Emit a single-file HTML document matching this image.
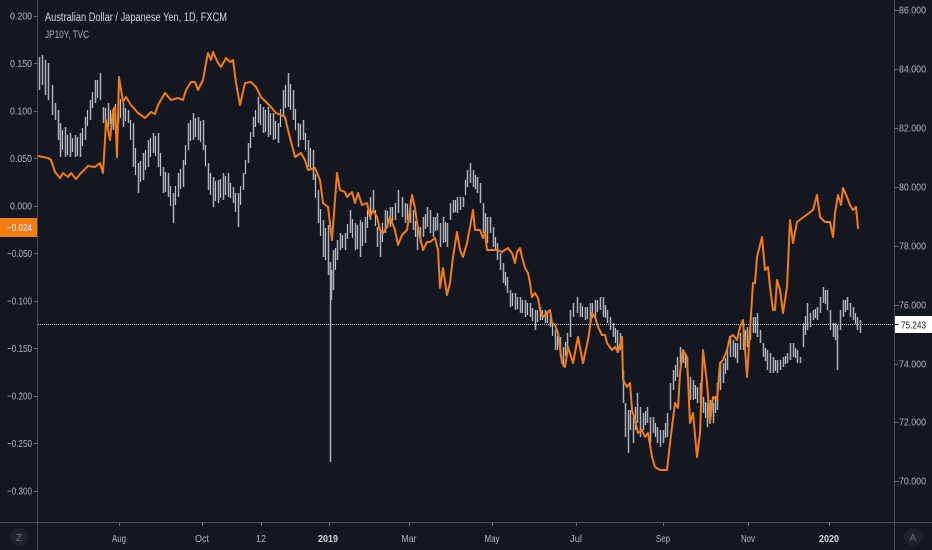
<!DOCTYPE html>
<html><head><meta charset="utf-8">
<style>
html,body{margin:0;padding:0;background:#131722;overflow:hidden;}
svg{display:block}
text{font-family:"Liberation Sans",sans-serif;}
</style></head><body>
<svg width="932" height="550" viewBox="0 0 932 550" xmlns="http://www.w3.org/2000/svg">
<defs><clipPath id="plot"><rect x="38" y="0" width="856" height="522"/></clipPath></defs>
<rect width="932" height="550" fill="#131722"/>
<g clip-path="url(#plot)">
<path fill="none" stroke="#aeb1b9" stroke-width="1.5" d="M39.5 57V90M42.5 55V85M45.5 60V95M48.5 63V100M52.5 85V115M55.5 103V120M58.5 110V140M60.5 123V157M65.5 127V157M70.5 133V157M75.5 135V157M80.5 133V157M85.5 117V140M90.5 100V120M95.5 80V103M100.5 73V100M103.5 107V123M108.5 103V127M113.5 113V130M118.5 90V123M123.5 103V127M128.5 110V123M133.5 123V167M138.5 163V193M143.5 153V180M148.5 140V167M153.5 133V153M158.5 133V167M163.5 167V193M168.5 173V197M173.5 193V223M178.5 173V197M183.5 160V187M188.5 123V150M193.5 113V140M198.5 117V140M203.5 120V150M208.5 163V190M213.5 177V207M218.5 180V203M223.5 173V200M228.5 173V197M233.5 187V203M238.5 193V227M243.5 173V190M248.5 143V163M253.5 117V137M258.5 97V123M263.5 107V133M268.5 107V137M273.5 113V140M278.5 123V143M283.5 90V117M288.5 73V107M293.5 90V120M298.5 123V147M303.5 120V140M308.5 140V167M313.5 150V180M318.5 190V223M323.5 220V257M328.5 225V275M333.5 250V290M337.5 240V260M340.5 233V250M345.5 233V250M350.5 210V233M355.5 223V250M360.5 220V257M365.5 217V243M370.5 197V220M373.5 190V210M377.5 227V247M380.5 230V257M385.5 210V233M390.5 207V227M395.5 203V220M398.5 190V213M402.5 197V217M405.5 203V223M410.5 200V223M413.5 210V230M417.5 227V250M420.5 227V243M423.5 217V237M427.5 207V227M430.5 210V233M433.5 217V237M437.5 213V230M440.5 223V247M443.5 217V243M447.5 223V247M450.5 203V220M453.5 200V213M457.5 197V213M460.5 197V210M463.5 197V207M467.5 170V187M470.5 163V183M473.5 170V187M477.5 177V193M480.5 183V203M483.5 203V233M487.5 217V243M490.5 217V233M493.5 227V247M497.5 243V260M500.5 253V270M503.5 263V283M507.5 277V293M510.5 290V307M515.5 293V310M520.5 297V313M525.5 300V317M530.5 303V317M535.5 310V330M540.5 307V320M545.5 310V323M550.5 313V327M555.5 330V350M560.5 337V357M563.5 347V367M567.5 333V350M570.5 310V337M573.5 303V317M577.5 297V313M580.5 303V317M585.5 307V320M590.5 303V323M595.5 300V317M600.5 297V310M603.5 297V317M607.5 310V323M610.5 317V330M613.5 323V337M617.5 330V353M620.5 333V350M623.5 370V403M625.5 403V437M628.5 410V453M630.5 410V430M633.5 417V443M637.5 393V423M640.5 407V437M643.5 413V430M647.5 407V423M650.5 417V443M653.5 417V433M657.5 427V443M660.5 430V447M663.5 430V443M667.5 413V437M670.5 383V410M673.5 370V390M677.5 357V377M680.5 347V367M683.5 350V363M687.5 357V377M690.5 377V400M693.5 380V400M697.5 387V403M700.5 383V403M703.5 397V413M707.5 403V427M710.5 400V420M713.5 403V423M717.5 383V410M720.5 363V390M723.5 363V383M727.5 350V370M730.5 337V357M733.5 340V357M737.5 343V363M740.5 333V350M743.5 330V350M747.5 327V347M750.5 323V340M753.5 317V333M757.5 313V337M760.5 330V343M763.5 343V357M767.5 350V370M770.5 353V373M773.5 357V373M777.5 360V373M780.5 360V370M783.5 357V367M787.5 353V363M790.5 343V360M793.5 343V357M797.5 350V363M800.5 357V363M803.5 323V347M807.5 303V330M810.5 313V327M813.5 310V320M817.5 307V320M820.5 297V313M823.5 287V303M827.5 290V310M830.5 310V330M833.5 323V337M835.5 323V340M840.5 310V330M843.5 300V317M847.5 297V310M850.5 303V317M853.5 307V320M857.5 317V330M860.5 320V333M330.5 262V462M331.5 270V300M837.5 325V370"/>
<path fill="none" stroke="#bfc2c9" stroke-width="1.2" d="M62.5 130V150M67.5 135V155M72.5 138V152M77.5 137V156M82.5 128V146M87.5 110V126M92.5 92V108M97.5 80V98M105.5 108V122M110.5 110V124M115.5 104V122M120.5 99V118M125.5 108V121M130.5 120V140M135.5 148V175M140.5 161V182M145.5 150V170M150.5 138V157M155.5 136V156M160.5 153V176M165.5 172V192M170.5 186V206M175.5 186V205M180.5 169V189M185.5 145V165M190.5 120V141M195.5 118V137M200.5 121V142M205.5 145V166M210.5 173V195M215.5 181V201M220.5 179V198M225.5 176V195M230.5 183V198M235.5 193V212M240.5 186V205M245.5 160V174M250.5 132V148M255.5 110V127M260.5 104V125M265.5 110V132M270.5 113V135M275.5 121V139M280.5 109V127M285.5 85V108M290.5 84V110M295.5 109V130M300.5 124V140M305.5 133V150M310.5 148V170M315.5 174V198M320.5 209V236M325.5 228V260M335.5 248V270M342.5 235V248M347.5 224V239M352.5 219V238M357.5 225V249M362.5 222V246M367.5 210V228M375.5 210V226M382.5 223V242M387.5 211V228M392.5 207V221M407.5 204V220M415.5 221V237M425.5 214V229M435.5 217V231M445.5 222V242M455.5 200V212M465.5 180V195M475.5 175V189M485.5 213V235M495.5 237V251M505.5 272V286M512.5 293V306M517.5 297V309M522.5 300V313M527.5 303V315M532.5 308V321M537.5 310V322M542.5 310V320M547.5 313V323M552.5 323V336M557.5 336V350M565.5 342V356M582.5 306V317M587.5 307V319M592.5 303V318M597.5 300V312M605.5 305V318M615.5 328V343M635.5 407V430M645.5 411V425M655.5 423V437M665.5 423V438M675.5 365V381M685.5 355V368M695.5 385V399M705.5 402V418M715.5 396V413M725.5 358V374M735.5 343V358M745.5 330V346M755.5 317V333M765.5 348V361M775.5 360V371M785.5 356V364M795.5 348V358M805.5 316V335M815.5 309V318M825.5 290V304M845.5 300V312M855.5 313V324"/>
<path fill="none" stroke="#f57c0f" stroke-width="2" stroke-linejoin="round" stroke-linecap="round" d="M38 156L48 158L51 160L55 172L60 178L63 173L68 177L71 173L76 179L81 173L88 166L95 167L100 163L103 173L105 140L106 120L110 140L113 110L115 107L117 157L119 77L123 102L126 97L131 105L138 113L145 118L151 112L155 114L158 105L165 93L171 100L178 98L183 100L186 90L191 82L195 82L198 90L203 80L206 63L208 53L211 60L213 52L218 63L221 67L226 58L230 62L233 60L236 83L240 105L245 83L251 82L256 87L261 97L266 102L271 107L276 113L281 115L285 117L288 130L295 157L301 153L305 160L308 170L315 168L320 180L323 203L328 207L332 240L337 173L340 190L345 192L347 197L352 192L355 203L358 193L362 205L367 203L370 217L373 210L377 217L380 230L383 233L387 227L390 217L395 230L398 245L402 235L407 230L410 210L412 195L415 208L417 223L420 237L423 250L427 242L430 242L435 238L438 250L440 288L443 268L447 295L450 283L453 257L457 232L460 250L463 257L467 243L470 227L473 210L475 230L480 230L483 238L485 233L487 250L497 250L502 252L508 248L512 253L515 263L517 252L520 248L522 257L525 268L528 273L530 283L532 297L535 293L538 298L540 310L543 317L550 310L552 323L555 325L558 333L562 363L565 367L568 347L573 363L578 337L583 363L588 340L592 313L595 317L598 327L602 335L605 335L607 343L612 350L615 347L618 352L622 337L623 380L627 387L630 383L632 410L635 420L638 433L642 430L645 437L648 433L652 457L655 467L660 470L667 470L670 443L675 403L678 408L680 373L683 350L687 357L690 423L693 413L697 457L700 433L703 350L707 383L710 423L713 397L717 400L720 363L723 360L727 350L730 337L733 335L737 340L740 327L743 320L747 377L750 330L753 283L755 283L757 257L762 237L765 270L768 267L770 287L773 310L775 310L777 280L780 290L783 313L787 287L790 220L793 243L797 222L813 210L817 195L820 217L825 222L830 222L833 237L835 213L838 195L841 205L843 188L847 197L850 205L853 210L856 207L858 228"/>
<line x1="38" y1="324.5" x2="894" y2="324.5" stroke="#d6d8de" stroke-width="1" stroke-dasharray="1 1"/>
</g>
<line x1="37.5" y1="0" x2="37.5" y2="550" stroke="#4a4e5a" stroke-width="1"/>
<line x1="894.5" y1="0" x2="894.5" y2="550" stroke="#4a4e5a" stroke-width="1"/>
<line x1="0" y1="522.5" x2="932" y2="522.5" stroke="#4a4e5a" stroke-width="1"/>

<text x="45" y="21" font-size="11.5" fill="#d1d4dc" textLength="182" lengthAdjust="spacingAndGlyphs">Australian Dollar / Japanese Yen, 1D, FXCM</text>
<text x="45" y="38" font-size="11" fill="#a9acb4" textLength="44" lengthAdjust="spacingAndGlyphs">JP10Y, TVC</text>

<g font-size="10.5" fill="#b2b5be" text-anchor="end">
<text x="32" y="19.5" textLength="22" lengthAdjust="spacingAndGlyphs">0.200</text>
<text x="32" y="67" textLength="22" lengthAdjust="spacingAndGlyphs">0.150</text>
<text x="32" y="114.5" textLength="22" lengthAdjust="spacingAndGlyphs">0.100</text>
<text x="32" y="162" textLength="22" lengthAdjust="spacingAndGlyphs">0.050</text>
<text x="32" y="209.5" textLength="22" lengthAdjust="spacingAndGlyphs">0.000</text>
<text x="32" y="257" textLength="25" lengthAdjust="spacingAndGlyphs">−0.050</text>
<text x="32" y="304.5" textLength="25" lengthAdjust="spacingAndGlyphs">−0.100</text>
<text x="32" y="352" textLength="25" lengthAdjust="spacingAndGlyphs">−0.150</text>
<text x="32" y="399.5" textLength="25" lengthAdjust="spacingAndGlyphs">−0.200</text>
<text x="32" y="447" textLength="25" lengthAdjust="spacingAndGlyphs">−0.250</text>
<text x="32" y="494.5" textLength="25" lengthAdjust="spacingAndGlyphs">−0.300</text>
</g>
<path d="M34 16.5h3.5M34 63.5h3.5M34 111.5h3.5M34 158.5h3.5M34 206.5h3.5M34 253.5h3.5M34 301.5h3.5M34 348.5h3.5M34 396.5h3.5M34 443.5h3.5M34 491.5h3.5" stroke="#6a6e7a" stroke-width="1"/>

<g font-size="10.5" fill="#b2b5be">
<text x="899" y="13.5" textLength="27" lengthAdjust="spacingAndGlyphs">86.000</text>
<text x="899" y="72.5" textLength="27" lengthAdjust="spacingAndGlyphs">84.000</text>
<text x="899" y="131.5" textLength="27" lengthAdjust="spacingAndGlyphs">82.000</text>
<text x="899" y="190.5" textLength="27" lengthAdjust="spacingAndGlyphs">80.000</text>
<text x="899" y="249.5" textLength="27" lengthAdjust="spacingAndGlyphs">78.000</text>
<text x="899" y="308.5" textLength="27" lengthAdjust="spacingAndGlyphs">76.000</text>
<text x="899" y="367.5" textLength="27" lengthAdjust="spacingAndGlyphs">74.000</text>
<text x="899" y="425.5" textLength="27" lengthAdjust="spacingAndGlyphs">72.000</text>
<text x="899" y="484.5" textLength="27" lengthAdjust="spacingAndGlyphs">70.000</text>
</g>
<path d="M895 10.5h3.5M895 69.5h3.5M895 128.5h3.5M895 187.5h3.5M895 246.5h3.5M895 305.5h3.5M895 364.5h3.5M895 422.5h3.5M895 481.5h3.5" stroke="#6a6e7a" stroke-width="1"/>

<rect x="0" y="218" width="37" height="19" fill="#f57c0f"/>
<text x="32" y="231" font-size="10.5" fill="#ffffff" text-anchor="end" textLength="25" lengthAdjust="spacingAndGlyphs">−0.024</text>
<rect x="895" y="316" width="37" height="17" fill="#ffffff"/>
<line x1="895" y1="324.5" x2="898.5" y2="324.5" stroke="#131722" stroke-width="1"/>
<text x="901" y="328.5" font-size="10.5" fill="#131722" textLength="25" lengthAdjust="spacingAndGlyphs">75.243</text>

<path d="M119.5 523v3M202.5 523v3M261.5 523v3M329.5 523v3M409.5 523v3M492.5 523v3M576.5 523v3M663.5 523v3M748.5 523v3M829.5 523v3" stroke="#6a6e7a" stroke-width="1"/>
<g font-size="10.5" fill="#b2b5be" text-anchor="middle">
<text x="119" y="542" textLength="14" lengthAdjust="spacingAndGlyphs">Aug</text>
<text x="202" y="542" textLength="14" lengthAdjust="spacingAndGlyphs">Oct</text>
<text x="261" y="542" textLength="10" lengthAdjust="spacingAndGlyphs">12</text>
<text x="328" y="542" textLength="20" lengthAdjust="spacingAndGlyphs" fill="#d1d4dc" font-weight="bold">2019</text>
<text x="409" y="542" textLength="15" lengthAdjust="spacingAndGlyphs">Mar</text>
<text x="492" y="542" textLength="15" lengthAdjust="spacingAndGlyphs">May</text>
<text x="576" y="542" textLength="12" lengthAdjust="spacingAndGlyphs">Jul</text>
<text x="663" y="542" textLength="14" lengthAdjust="spacingAndGlyphs">Sep</text>
<text x="748" y="542" textLength="14" lengthAdjust="spacingAndGlyphs">Nov</text>
<text x="829" y="542" textLength="20" lengthAdjust="spacingAndGlyphs" fill="#d1d4dc" font-weight="bold">2020</text>
</g>

<circle cx="19" cy="537" r="9" fill="#1e222d"/>
<text x="19" y="541" font-size="10" fill="#6a6e7a" text-anchor="middle">Z</text>
<circle cx="913" cy="537" r="9" fill="#1e222d"/>
<text x="913" y="541" font-size="10" fill="#6a6e7a" text-anchor="middle">A</text>
</svg>
</body></html>
